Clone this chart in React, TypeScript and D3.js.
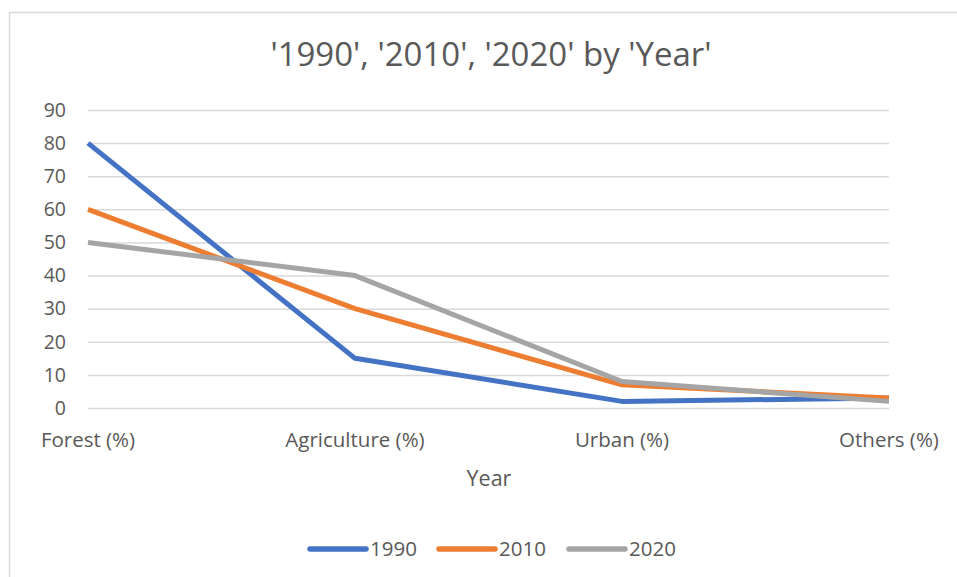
import React, { useEffect, useRef } from "react";
import * as d3 from "d3";

const categories = ["Forest (%)", "Agriculture (%)", "Urban (%)", "Others (%)"];
const seriesNames = ["1990", "2010", "2020"];
const values1990 = [80, 15, 2, 3];
const values2010 = [60, 30, 7, 3];
const values2020 = [50, 40, 8, 2];
const yTicks = [0, 10, 20, 30, 40, 50, 60, 70, 80, 90];
const colors = ["#4472C4", "#ED7D31", "#A5A5A5"];

const FONT = "'Open Sans', 'Noto Sans', sans-serif";
const TEXT = "#595959";

function drawChart(element: SVGSVGElement) {
    const svg = d3.select(element);
    svg.selectAll("*").remove();

    const margin = { top: 110, right: 68, bottom: 169, left: 88 },
        fullW = 957, fullH = 577;

    // chart area border
    svg.append("rect")
        .attr("x", 9.5).attr("y", 12.5)
        .attr("width", 980).attr("height", 600)
        .attr("fill", "white")
        .attr("stroke", "#d9d9d9")
        .attr("stroke-width", 1.5);

    const x = d3.scalePoint()
        .domain(categories)
        .range([margin.left, fullW - margin.right]);

    const y = d3.scaleLinear()
        .domain([0, 90])
        .range([fullH - margin.bottom, margin.top]);

    // gridlines + y labels
    const yAxis = svg.append("g")
        .attr("transform", "translate(" + margin.left + ",0)")
        .call(d3.axisLeft(y).tickValues(yTicks).tickSize(-(fullW - margin.right - margin.left)).tickPadding(22));
    yAxis.select(".domain").remove();
    yAxis.selectAll("line").attr("stroke", "#d9d9d9").attr("stroke-width", 1.5);
    yAxis.selectAll("text")
        .attr("fill", TEXT)
        .style("font-family", FONT)
        .style("font-size", "19.5px");

    // category labels
    svg.append("g")
        .selectAll("text")
        .data(categories)
        .enter()
        .append("text")
        .attr("x", function (d) { return x(d) as number; })
        .attr("y", 447)
        .attr("text-anchor", "middle")
        .attr("fill", TEXT)
        .style("font-family", FONT)
        .style("font-size", "20.5px")
        .text(function (d) { return d; });

    // axis title
    svg.append("text")
        .attr("x", 489).attr("y", 486)
        .attr("text-anchor", "middle")
        .attr("fill", TEXT)
        .style("font-family", FONT)
        .style("font-size", "21.5px")
        .text("Year");

    // chart title
    svg.append("text")
        .attr("x", 491).attr("y", 66)
        .attr("text-anchor", "middle")
        .attr("fill", TEXT)
        .style("font-family", FONT)
        .style("font-size", "33px")
        .text("'1990', '2010', '2020' by 'Year'");

    // lines
    const allSeries = [values1990, values2010, values2020];
    const line = d3.line<number>()
        .x(function (_d, i) { return x(categories[i]) as number; })
        .y(function (d) { return y(d); });

    svg.selectAll("path.series")
        .data(allSeries)
        .enter()
        .append("path")
        .attr("class", "series")
        .attr("d", function (d) { return line(d); })
        .attr("fill", "none")
        .attr("stroke", function (_d, i) { return colors[i]; })
        .attr("stroke-width", 5)
        .attr("stroke-linejoin", "round");

    // legend
    const legendX = [310, 439, 569];
    const legend = svg.append("g");
    seriesNames.forEach(function (name, i) {
        legend.append("line")
            .attr("x1", legendX[i]).attr("x2", legendX[i] + 56)
            .attr("y1", 549).attr("y2", 549)
            .attr("stroke", colors[i])
            .attr("stroke-width", 5.5)
            .attr("stroke-linecap", "round");
        legend.append("text")
            .attr("x", legendX[i] + 60).attr("y", 556)
            .attr("fill", TEXT)
            .style("font-family", FONT)
            .style("font-size", "20.5px")
            .text(name);
    });
}

export default function App() {
    const ref = useRef<SVGSVGElement>(null);
    useEffect(() => {
        if (ref.current) drawChart(ref.current);
    }, []);
    return (
        <svg ref={ref} width={957} height={577}
            style={{ position: "absolute", left: 0, top: 0, background: "white" }} />
    );
}
